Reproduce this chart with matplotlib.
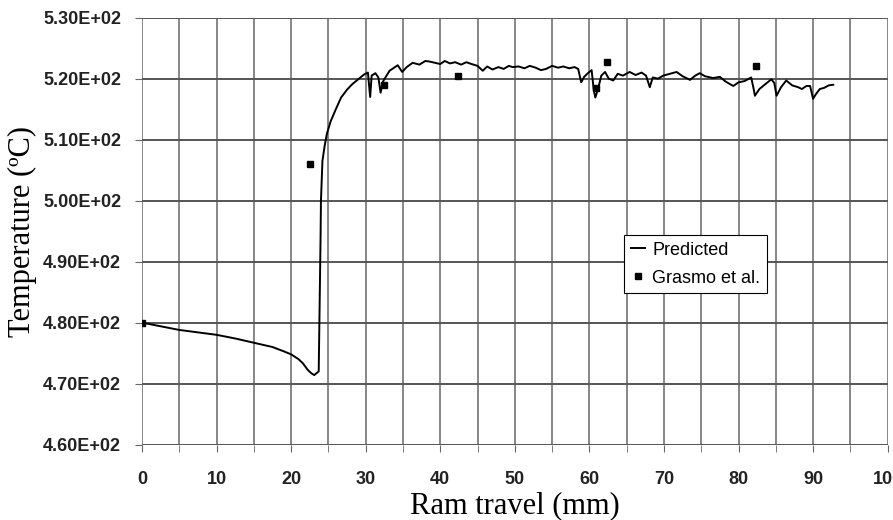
import matplotlib.pyplot as plt
from matplotlib.ticker import FuncFormatter, MultipleLocator

# Predicted billet temperature vs ram travel
ram_pred = [0, 2.5, 5, 7.5, 10, 12.5, 15, 17.5, 19, 20, 21, 21.6, 22.2, 22.7, 23.1, 23.5,
            23.7, 23.85, 23.95, 24.0, 24.2, 24.5, 24.8, 25.3, 26.0, 26.7, 27.5, 28.2, 29.0,
            29.8, 30.3, 30.6, 30.8, 31.3, 31.7, 32.0, 32.3, 32.8, 33.2, 33.8, 34.3, 34.9,
            35.5, 36.3, 37.2, 38.0, 38.6, 39.3, 40.0, 40.6, 41.3, 42.0, 42.8, 43.5, 44.2,
            45.0, 45.7, 46.3, 47.0, 47.8, 48.5, 49.2, 49.7, 50.5, 51.3, 52.0, 52.8, 53.5,
            54.2, 55.0, 55.8, 56.5, 57.3, 58.0, 58.5, 58.9, 59.3, 59.8, 60.3, 60.6, 60.8,
            61.2, 61.6, 62.1, 62.6, 63.2, 63.8, 64.5, 65.4, 66.2, 67.0, 67.6, 68.1, 68.5,
            69.2, 69.9, 70.8, 71.7, 72.5, 73.5, 74.2, 74.8, 75.5, 76.6, 77.5, 78.3, 79.3,
            80.0, 80.8, 81.7, 82.0, 82.2, 82.8, 83.5, 84.4, 84.8, 85.1, 85.7, 86.4, 87.2,
            88.0, 88.5, 89.1, 89.6, 90.0, 90.4, 90.9, 91.5, 92.1, 92.7]
temp_pred = [480.0, 479.4, 478.8, 478.4, 478.0, 477.4, 476.7, 476.0, 475.3, 474.8, 474.0,
             473.3, 472.3, 471.7, 471.4, 471.8,
             472.0, 485.0, 494.0, 500.0, 506.5, 509.0, 511.0, 513.0, 515.0, 516.9, 518.2,
             519.1, 519.9, 520.7, 521.0, 517.0, 520.5, 520.9, 520.2, 517.7, 519.5, 520.5,
             521.3, 521.8, 522.2, 521.1, 521.9, 522.6, 522.3, 522.9, 522.8, 522.6, 522.4,
             522.9, 522.5, 522.7, 522.3, 522.7, 522.4, 522.1, 521.3, 522.0, 521.5, 521.9,
             521.6, 522.1, 521.9, 522.0, 521.7, 522.1, 521.8, 521.4, 521.6, 522.1, 521.8,
             522.0, 521.7, 521.9, 521.6, 519.4, 520.3, 520.9, 521.4, 518.0, 516.9, 518.5,
             520.5, 521.1, 520.0, 519.7, 520.8, 520.5, 521.1, 520.6, 521.0, 520.5, 518.6,
             520.2, 520.0, 520.5, 520.8, 521.1, 520.4, 519.8, 520.5, 520.9, 520.4, 520.1,
             520.3, 519.5, 518.8, 519.4, 519.6, 520.2, 518.5, 517.2, 518.3, 519.0, 519.9,
             519.3, 517.2, 518.6, 519.7, 518.9, 518.6, 518.3, 518.8, 518.8, 516.7, 517.5,
             518.3, 518.5, 518.9, 519.0]

# Measured values (Grasmo et al.)
ram_meas = [0, 22.5, 32.4, 42.4, 60.9, 62.4, 82.3]
temp_meas = [480.0, 506.0, 519.0, 520.5, 518.4, 522.7, 522.0]


def sci_fmt(v, pos):
    return f"{v / 100:.2f}E+02"


fig = plt.figure(figsize=(8.93, 5.2), dpi=100)
ax = fig.add_axes([0.159, 0.145, 0.835, 0.821])

ax.plot(ram_pred, temp_pred, color='black', lw=1.4, label='Predicted')
ax.plot(ram_meas, temp_meas, 's', color='black', ms=5, label='Grasmo et al.')

ax.set_xlim(0, 100)
ax.set_ylim(460, 530)
ax.xaxis.set_major_locator(MultipleLocator(10))
ax.xaxis.set_minor_locator(MultipleLocator(5))
ax.yaxis.set_major_locator(MultipleLocator(10))
ax.yaxis.set_major_formatter(FuncFormatter(sci_fmt))

ax.grid(True, which='both', axis='x', color='#666666', lw=1.1)
ax.grid(True, which='major', axis='y', color='#555555', lw=1.4)
ax.set_axisbelow(True)
for s in ax.spines.values():
    s.set_visible(False)

ax.tick_params(axis='both', which='major', length=5, color='#666666',
               labelsize=13, labelcolor='#222222')
ax.tick_params(axis='x', which='major', pad=14)
ax.tick_params(axis='y', which='major', pad=10)
ax.tick_params(axis='x', which='minor', length=5, color='#666666')
for lbl in ax.get_xticklabels() + ax.get_yticklabels():
    lbl.set_fontweight('bold')
    lbl.set_family('Liberation Sans')

ax.set_xlabel('Ram travel (mm)', family='Liberation Serif', fontsize=22, labelpad=2)
ax.set_ylabel('Temperature (ºC)', family='Liberation Serif', fontsize=22, labelpad=4)

leg = ax.legend(loc='upper left', bbox_to_anchor=(0.647, 0.49), borderaxespad=0,
                prop={'family': 'Liberation Sans', 'size': 13}, frameon=True,
                fancybox=False, framealpha=1, edgecolor='black', handlelength=0.8,
                handletextpad=0.4, borderpad=0.35, labelspacing=0.6)
leg.get_frame().set_linewidth(0.8)

fig.savefig('out.png', dpi=100)
